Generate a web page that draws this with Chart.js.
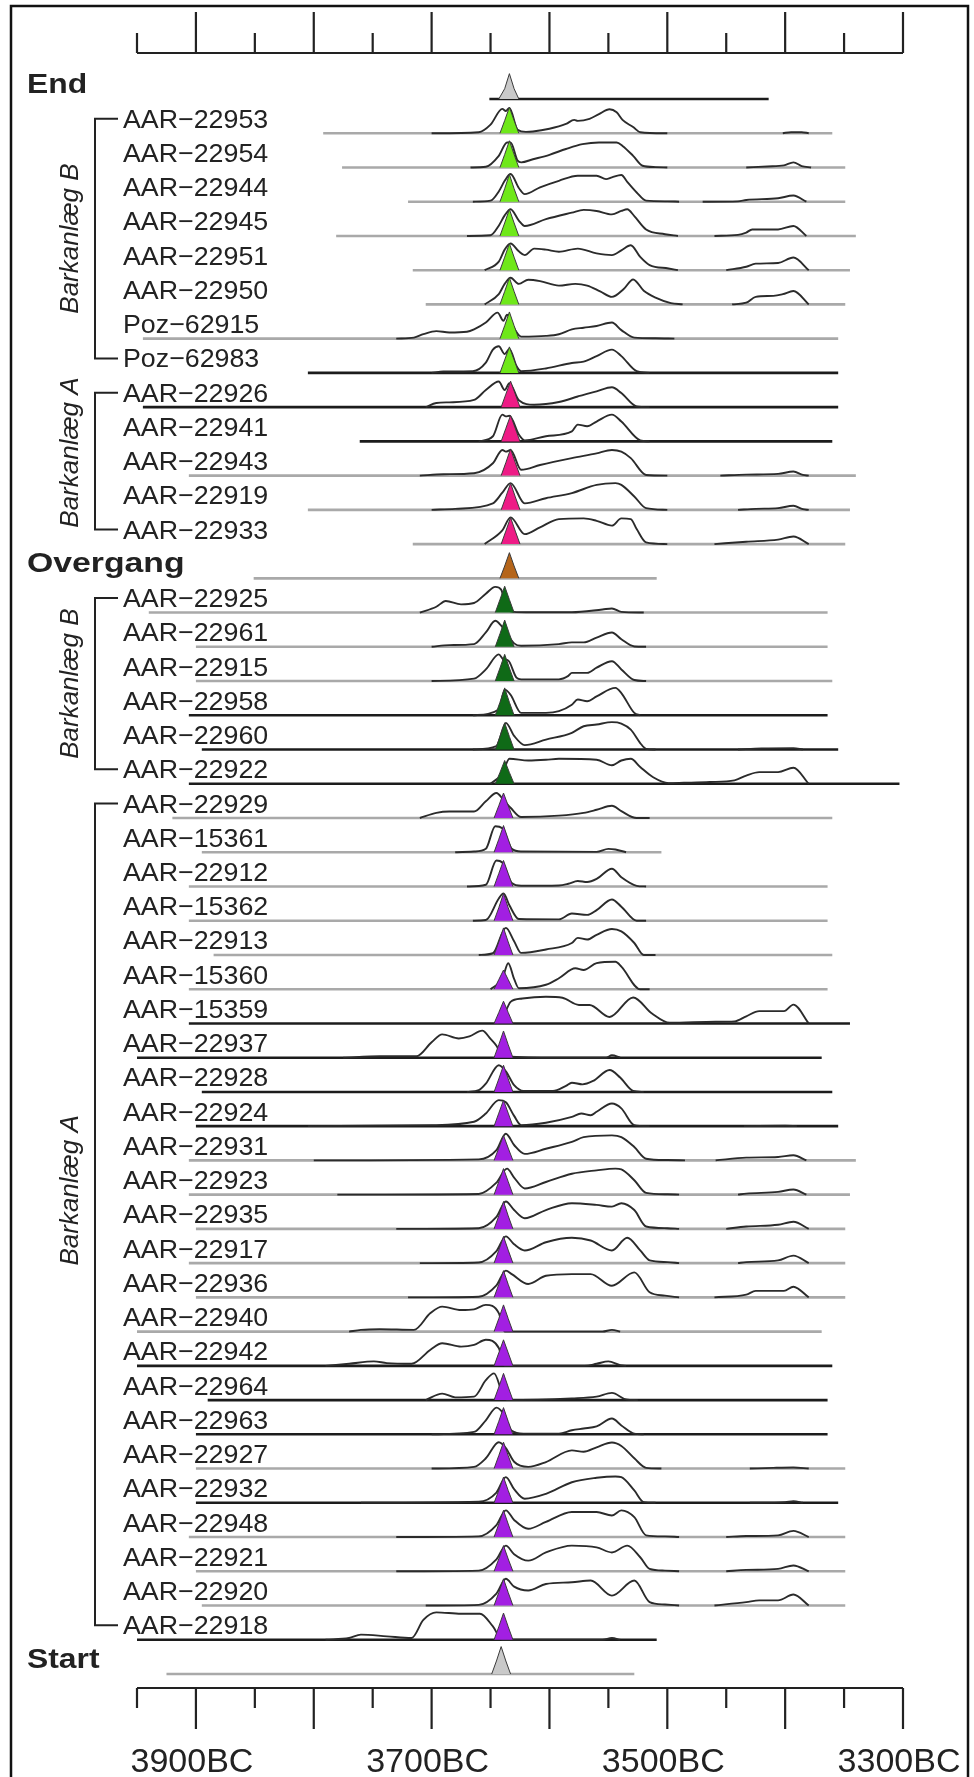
<!DOCTYPE html>
<html>
<head>
<meta charset="utf-8">
<script src="https://cdn.jsdelivr.net/npm/chart.js@4.4.1/dist/chart.umd.min.js"></script>
<style>
  html, body { margin: 0; padding: 0; background: #fff; }
  canvas { display: block; }
</style>
</head>
<body>
<canvas id="chart" width="974" height="1777"></canvas>
<script>
// ---- data (years BC, heights as fraction of row spacing) ----
const rowNames = [
    'End',
    'AAR-22953', 'AAR-22954', 'AAR-22944', 'AAR-22945', 'AAR-22951', 'AAR-22950', 'Poz-62915', 'Poz-62983',
    'AAR-22926', 'AAR-22941', 'AAR-22943', 'AAR-22919', 'AAR-22933',
    'Overgang',
    'AAR-22925', 'AAR-22961', 'AAR-22915', 'AAR-22958', 'AAR-22960', 'AAR-22922',
    'AAR-22929', 'AAR-15361', 'AAR-22912', 'AAR-15362', 'AAR-22913', 'AAR-15360', 'AAR-15359', 'AAR-22937',
    'AAR-22928', 'AAR-22924', 'AAR-22931', 'AAR-22923', 'AAR-22935', 'AAR-22917', 'AAR-22936', 'AAR-22940',
    'AAR-22942', 'AAR-22964', 'AAR-22963', 'AAR-22927', 'AAR-22932', 'AAR-22948', 'AAR-22921', 'AAR-22920',
    'AAR-22918',
    'Start'
];

const boundaryRows = ['End', 'Overgang', 'Start'];

// phase of each row: b = boundary, B1/A1/B2/A2 = sub-phases, o = transition
const rowPhase = [
    'b',
    'B1', 'B1', 'B1', 'B1', 'B1', 'B1', 'B1', 'B1',
    'A1', 'A1', 'A1', 'A1', 'A1',
    'o',
    'B2', 'B2', 'B2', 'B2', 'B2', 'B2',
    'A2', 'A2', 'A2', 'A2', 'A2', 'A2', 'A2', 'A2', 'A2', 'A2', 'A2', 'A2', 'A2',
    'A2', 'A2', 'A2', 'A2', 'A2', 'A2', 'A2', 'A2', 'A2', 'A2', 'A2', 'A2',
    'b'
];

const groupNames = ['Barkanlæg B', 'Barkanlæg A', 'Barkanlæg B', 'Barkanlæg A'];
const groupFirst = [1, 9, 15, 21];
const groupLast = [8, 13, 20, 45];

const rangeFrom = [3651, 3792, 3776, 3720, 3781, 3716, 3705, 3945, 3805, 3945, 3761, 3906, 3805, 3716,
    3851, 3940, 3900, 3900, 3906, 3895, 3906, 3920, 3895, 3906, 3906, 3885, 3906, 3906, 3950,
    3895, 3900, 3906, 3906, 3900, 3906, 3900, 3950, 3950, 3890, 3900, 3900, 3900, 3906, 3900, 3895,
    3950, 3925];
const rangeTo = [3414, 3360, 3349, 3349, 3340, 3345, 3349, 3355, 3355, 3355, 3360, 3340, 3345, 3349,
    3509, 3364, 3364, 3360, 3364, 3355, 3303, 3360, 3505, 3364, 3364, 3360, 3364, 3345, 3369,
    3360, 3355, 3340, 3345, 3349, 3349, 3349, 3369, 3360, 3364, 3364, 3349, 3355, 3349, 3349, 3349,
    3509, 3528];

// unmodelled (outline) distributions, [year, height]; height null = gap
const priorCurves = [
    null,
    [[3700,0],[3660,0.03],[3650,0.25],[3640,0.71],[3637,0.65],[3634,0.74],[3627,0.1],[3620,0.04],[3614,0.05],[3600,0.13],[3586,0.27],[3579,0.39],[3576,0.36],[3566,0.42],[3558,0.56],[3549,0.7],[3543,0.61],[3538,0.39],[3529,0.18],[3523,0.03],[3500,0],[3450,null],[3402,0],[3395,0.03],[3386,0.03],[3380,0]],
    [[3667,0],[3654,0.02],[3643,0.34],[3636,0.73],[3633,0.73],[3627,0.2],[3624,0.15],[3614,0.24],[3600,0.37],[3586,0.54],[3572,0.68],[3558,0.73],[3543,0.73],[3538,0.63],[3529,0.34],[3521,0.05],[3510,0.01],[3500,0],[3460,null],[3433,0],[3415,0.03],[3401,0.06],[3393,0.15],[3386,0.04],[3378,0]],
    [[3665,0],[3650,0.03],[3643,0.3],[3638,0.61],[3633,0.81],[3626,0.4],[3621,0.22],[3608,0.42],[3592,0.61],[3576,0.76],[3560,0.76],[3552,0.66],[3547,0.71],[3539,0.78],[3534,0.58],[3526,0.27],[3518,0.03],[3500,0.01],[3490,0],[3480,null],[3470,0],[3440,0.01],[3433,0.05],[3406,0.1],[3393,0.18],[3382,0]],
    [[3670,0],[3650,0.02],[3643,0.3],[3638,0.6],[3633,0.78],[3626,0.45],[3621,0.29],[3603,0.49],[3581,0.68],[3571,0.76],[3560,0.73],[3547,0.63],[3539,0.73],[3534,0.78],[3528,0.58],[3518,0.19],[3502,0.05],[3491,0],[3475,null],[3460,0],[3440,0.03],[3433,0.1],[3428,0.19],[3406,0.19],[3393,0.29],[3382,0]],
    [[3655,0],[3643,0.25],[3638,0.6],[3633,0.78],[3626,0.55],[3621,0.44],[3613,0.63],[3603,0.6],[3592,0.54],[3576,0.63],[3560,0.49],[3547,0.44],[3539,0.58],[3531,0.73],[3523,0.39],[3515,0.15],[3499,0.05],[3491,0],[3470,null],[3450,0],[3433,0.1],[3425,0.19],[3406,0.21],[3393,0.37],[3380,0]],
    [[3655,0],[3643,0.3],[3638,0.6],[3633,0.78],[3626,0.6],[3618,0.72],[3608,0.68],[3592,0.55],[3578,0.6],[3568,0.55],[3557,0.38],[3547,0.22],[3537,0.45],[3529,0.73],[3520,0.4],[3510,0.2],[3497,0.04],[3487,0],[3465,null],[3445,0],[3433,0.05],[3425,0.22],[3410,0.25],[3402,0.3],[3393,0.39],[3380,0]],
    [[3730,0],[3715,0.03],[3707,0.13],[3696,0.22],[3685,0.18],[3670,0.2],[3664,0.27],[3654,0.47],[3644,0.76],[3639,0.52],[3636,0.7],[3630,0.3],[3624,0.06],[3603,0.08],[3592,0.13],[3581,0.27],[3571,0.32],[3560,0.37],[3547,0.47],[3539,0.25],[3528,0.03],[3510,0.01],[3494,0]],
    [[3700,0],[3690,0.04],[3665,0.05],[3654,0.3],[3648,0.68],[3643,0.78],[3638,0.55],[3634,0.7],[3628,0.2],[3624,0.05],[3603,0.13],[3581,0.29],[3571,0.33],[3560,0.49],[3547,0.68],[3539,0.49],[3526,0.05],[3515,0]],
    [[3705,0],[3696,0.12],[3685,0.14],[3664,0.21],[3654,0.5],[3643,0.75],[3638,0.5],[3634,0.7],[3626,0.2],[3613,0.07],[3592,0.15],[3576,0.31],[3571,0.36],[3560,0.46],[3547,0.58],[3539,0.41],[3526,0.02],[3515,0]],
    [[3660,0],[3648,0.15],[3640,0.78],[3637,0.73],[3634,0.75],[3626,0.2],[3621,0.03],[3603,0.15],[3581,0.29],[3576,0.49],[3568,0.44],[3560,0.58],[3547,0.78],[3539,0.58],[3523,0.03],[3515,0]],
    [[3710,0],[3690,0.04],[3664,0.07],[3648,0.36],[3640,0.75],[3637,0.7],[3633,0.75],[3624,0.17],[3608,0.31],[3581,0.51],[3560,0.65],[3547,0.75],[3539,0.7],[3531,0.51],[3518,0.02],[3500,0],[3475,null],[3455,0],[3433,0.03],[3406,0.05],[3393,0.12],[3385,0.02],[3380,0]],
    [[3700,0],[3680,0.03],[3648,0.19],[3640,0.5],[3633,0.78],[3621,0.19],[3603,0.34],[3581,0.49],[3560,0.73],[3544,0.78],[3539,0.73],[3528,0.39],[3518,0.05],[3500,0],[3470,null],[3440,0],[3425,0.03],[3406,0.05],[3393,0.12],[3385,0.02],[3380,0]],
    [[3655,0],[3640,0.4],[3633,0.78],[3621,0.29],[3608,0.49],[3592,0.73],[3571,0.75],[3560,0.68],[3547,0.54],[3539,0.75],[3531,0.73],[3526,0.44],[3518,0.05],[3500,0],[3480,null],[3460,0],[3433,0.07],[3406,0.13],[3393,0.22],[3380,0]],
    null,
    [[3710,0],[3696,0.17],[3688,0.34],[3675,0.24],[3664,0.28],[3654,0.55],[3646,0.75],[3641,0.67],[3636,0.1],[3630,0.02],[3620,0.01],[3581,0.01],[3555,0.09],[3547,0.12],[3539,0.02],[3520,0]],
    [[3700,0],[3685,0.05],[3664,0.08],[3654,0.42],[3646,0.76],[3641,0.62],[3630,0.1],[3624,0.03],[3592,0.08],[3581,0.13],[3571,0.13],[3560,0.27],[3547,0.42],[3539,0.22],[3528,0.01],[3518,0]],
    [[3700,0],[3664,0.07],[3654,0.34],[3643,0.78],[3639,0.63],[3635,0.6],[3628,0.1],[3624,0.05],[3592,0.05],[3584,0.15],[3581,0.24],[3568,0.24],[3560,0.39],[3547,0.58],[3539,0.34],[3528,0.03],[3518,0]],
    [[3665,0],[3643,0.17],[3638,0.75],[3633,0.6],[3624,0.07],[3603,0.07],[3592,0.12],[3581,0.31],[3576,0.46],[3568,0.41],[3560,0.55],[3544,0.8],[3539,0.65],[3528,0.07],[3523,0]],
    [[3665,0],[3645,0.1],[3637,0.78],[3630,0.4],[3621,0.13],[3603,0.29],[3581,0.49],[3571,0.68],[3560,0.73],[3547,0.8],[3539,0.76],[3531,0.58],[3523,0.19],[3518,0.02],[3510,0],[3470,null],[3440,0],[3420,0.03],[3393,0.04],[3385,0]],
    [[3650,0],[3640,0.3],[3634,0.73],[3618,0.68],[3603,0.7],[3592,0.73],[3560,0.7],[3547,0.54],[3539,0.68],[3531,0.73],[3523,0.49],[3512,0.19],[3499,0.02],[3486,0.03],[3464,0.05],[3443,0.1],[3433,0.24],[3422,0.34],[3406,0.34],[3393,0.47],[3380,0]],
    [[3710,0],[3696,0.15],[3685,0.19],[3664,0.19],[3654,0.49],[3645,0.73],[3639,0.53],[3633,0.3],[3624,0.03],[3592,0.07],[3571,0.15],[3560,0.24],[3547,0.36],[3539,0.2],[3526,0],[3515,0]],
    [[3680,0],[3664,0.02],[3654,0.1],[3646,0.76],[3640,0.7],[3632,0.1],[3624,0.02],[3560,0.01],[3550,0.1],[3544,0.08],[3535,0]],
    [[3670,0],[3654,0.05],[3645,0.76],[3640,0.7],[3632,0.1],[3624,0.02],[3592,0.03],[3584,0.08],[3576,0.16],[3568,0.13],[3560,0.22],[3547,0.52],[3539,0.27],[3526,0.02],[3518,0]],
    [[3665,0],[3654,0.02],[3643,0.65],[3639,0.8],[3634,0.45],[3626,0.05],[3592,0.04],[3581,0.21],[3568,0.17],[3560,0.31],[3547,0.62],[3539,0.41],[3526,0],[3518,0]],
    [[3660,0],[3648,0.05],[3637,0.79],[3630,0.4],[3624,0.06],[3603,0.16],[3581,0.35],[3576,0.5],[3568,0.45],[3560,0.59],[3547,0.76],[3539,0.69],[3528,0.35],[3520,0],[3510,0]],
    [[3650,0],[3640,0.3],[3635,0.76],[3630,0.3],[3626,0.03],[3603,0.13],[3592,0.32],[3578,0.61],[3571,0.56],[3560,0.76],[3544,0.8],[3539,0.66],[3523,0],[3515,0]],
    [[3645,0],[3638,0.3],[3633,0.63],[3623,0.73],[3603,0.78],[3589,0.75],[3575,0.54],[3566,0.54],[3549,0.19],[3529,0.76],[3513,0.29],[3498,0.02],[3459,0.05],[3443,0.06],[3433,0.21],[3422,0.36],[3401,0.36],[3393,0.55],[3380,0]],
    [[3775,0],[3744,0.04],[3713,0.04],[3700,0.45],[3691,0.68],[3677,0.56],[3668,0.62],[3657,0.79],[3650,0.55],[3645,0.35],[3640,0.05],[3600,0],[3552,0],[3547,0.07],[3540,0]],
    [[3670,0],[3660,0.05],[3654,0.24],[3643,0.78],[3637,0.6],[3630,0.2],[3622,0.03],[3597,0.03],[3586,0.18],[3581,0.27],[3572,0.22],[3563,0.32],[3549,0.64],[3540,0.42],[3529,0.03],[3520,0]],
    [[3805,0],[3700,0.03],[3664,0.13],[3654,0.37],[3643,0.76],[3637,0.7],[3630,0.3],[3624,0.03],[3603,0.1],[3581,0.27],[3573,0.37],[3565,0.32],[3560,0.42],[3547,0.66],[3539,0.52],[3528,0.03],[3515,0],[3480,null],[3435,0],[3400,0.01],[3390,0]],
    [[3800,0],[3660,0.03],[3645,0.3],[3637,0.78],[3630,0.45],[3621,0.19],[3603,0.34],[3581,0.54],[3571,0.68],[3547,0.73],[3539,0.68],[3528,0.39],[3518,0.05],[3500,0.01],[3485,0],[3470,null],[3459,0],[3433,0.08],[3406,0.1],[3393,0.15],[3382,0]],
    [[3780,0],[3660,0.02],[3645,0.35],[3636,0.76],[3630,0.5],[3621,0.18],[3603,0.37],[3581,0.61],[3560,0.71],[3544,0.76],[3539,0.74],[3528,0.42],[3518,0.05],[3500,0.01],[3490,0],[3465,null],[3440,0],[3433,0.03],[3406,0.08],[3393,0.15],[3382,0]],
    [[3730,0],[3660,0.02],[3645,0.35],[3637,0.8],[3630,0.55],[3621,0.31],[3603,0.55],[3581,0.75],[3560,0.7],[3547,0.65],[3539,0.75],[3528,0.55],[3518,0.07],[3500,0.02],[3490,0],[3470,null],[3450,0],[3433,0.07],[3406,0.12],[3393,0.21],[3380,0]],
    [[3710,0],[3660,0.02],[3645,0.35],[3637,0.78],[3630,0.55],[3621,0.37],[3603,0.61],[3581,0.74],[3565,0.66],[3547,0.37],[3534,0.74],[3523,0.37],[3515,0.08],[3500,0.03],[3490,0],[3465,null],[3440,0],[3433,0.03],[3406,0.08],[3393,0.22],[3380,0]],
    [[3720,0],[3660,0.02],[3645,0.35],[3637,0.78],[3632,0.68],[3618,0.39],[3603,0.63],[3581,0.68],[3565,0.68],[3547,0.34],[3528,0.73],[3515,0.15],[3502,0.05],[3490,0],[3475,null],[3460,0],[3433,0.08],[3425,0.19],[3401,0.19],[3393,0.31],[3380,0]],
    [[3770,0],[3760,0.05],[3744,0.07],[3715,0.05],[3701,0.54],[3691,0.73],[3675,0.63],[3664,0.65],[3654,0.78],[3643,0.54],[3638,0],[3555,0],[3547,0.05],[3540,0]],
    [[3790,0],[3770,0.06],[3749,0.13],[3738,0.08],[3717,0.06],[3701,0.47],[3691,0.66],[3675,0.56],[3664,0.61],[3654,0.76],[3643,0.52],[3638,0],[3570,0],[3560,0.06],[3550,0.13],[3540,0.02],[3535,0]],
    [[3705,0],[3691,0.19],[3680,0.08],[3664,0.1],[3654,0.58],[3647,0.78],[3640,0.2],[3636,0],[3581,0.05],[3560,0.1],[3547,0.21],[3535,0.02],[3525,0]],
    [[3700,0],[3664,0.07],[3654,0.41],[3645,0.78],[3639,0.6],[3632,0.1],[3622,0.02],[3592,0.02],[3581,0.12],[3571,0.17],[3560,0.23],[3547,0.46],[3539,0.26],[3528,0.02],[3520,0]],
    [[3700,0],[3664,0.05],[3654,0.3],[3643,0.77],[3637,0.6],[3630,0.2],[3618,0.05],[3603,0.19],[3581,0.53],[3571,0.49],[3560,0.62],[3547,0.76],[3539,0.66],[3528,0.3],[3518,0.02],[3505,0],[3470,null],[3430,0],[3410,0.02],[3393,0.03],[3380,0]],
    [[3760,0],[3660,0.03],[3645,0.3],[3637,0.75],[3630,0.4],[3621,0.12],[3603,0.26],[3581,0.6],[3560,0.73],[3544,0.77],[3539,0.75],[3528,0.36],[3520,0.02],[3510,0],[3470,null],[3430,0],[3400,0.02],[3393,0.05],[3385,0]],
    [[3730,0],[3660,0.02],[3645,0.35],[3637,0.78],[3630,0.5],[3618,0.24],[3603,0.44],[3581,0.73],[3560,0.73],[3547,0.63],[3539,0.78],[3528,0.58],[3518,0.05],[3502,0.02],[3490,0],[3470,null],[3450,0],[3433,0.03],[3406,0.05],[3393,0.18],[3380,0]],
    [[3730,0],[3660,0.02],[3645,0.35],[3637,0.75],[3630,0.5],[3618,0.31],[3603,0.55],[3581,0.75],[3560,0.7],[3547,0.55],[3534,0.75],[3523,0.41],[3515,0.07],[3502,0.02],[3490,0],[3470,null],[3450,0],[3433,0.04],[3406,0.07],[3393,0.17],[3380,0]],
    [[3705,0],[3660,0.02],[3645,0.35],[3637,0.78],[3630,0.55],[3618,0.44],[3603,0.63],[3581,0.68],[3565,0.73],[3547,0.29],[3528,0.73],[3515,0.1],[3502,0.03],[3490,0],[3475,null],[3460,0],[3433,0.1],[3422,0.15],[3406,0.15],[3393,0.32],[3380,0]],
    [[3790,0],[3770,0.05],[3760,0.15],[3738,0.1],[3717,0.05],[3707,0.58],[3696,0.8],[3675,0.76],[3659,0.76],[3648,0.39],[3640,0],[3555,0],[3547,0.05],[3540,0]],
    null
];

// modelled (filled) distributions, [year, height]
const postCurves = [
    [[3643,0],[3638,0.3],[3634,0.74],[3630,0.3],[3626,0]],
    [[3642,0],[3638,0.37],[3634,0.76],[3630,0.37],[3626,0]],
    [[3642,0],[3638,0.38],[3634,0.78],[3630,0.38],[3626,0]],
    [[3642,0],[3638,0.38],[3634,0.8],[3630,0.38],[3626,0]],
    [[3642,0],[3638,0.38],[3634,0.78],[3630,0.38],[3626,0]],
    [[3642,0],[3638,0.38],[3634,0.78],[3630,0.38],[3626,0]],
    [[3642,0],[3638,0.38],[3634,0.78],[3630,0.38],[3626,0]],
    [[3642,0],[3638,0.38],[3634,0.78],[3630,0.38],[3626,0]],
    [[3642,0],[3638,0.38],[3634,0.76],[3630,0.38],[3626,0]],
    [[3641,0],[3637,0.38],[3633,0.76],[3629,0.38],[3625,0]],
    [[3641,0],[3637,0.38],[3633,0.76],[3629,0.38],[3625,0]],
    [[3641,0],[3637,0.38],[3633,0.78],[3629,0.38],[3625,0]],
    [[3641,0],[3637,0.38],[3633,0.78],[3629,0.38],[3625,0]],
    [[3641,0],[3637,0.38],[3633,0.78],[3629,0.38],[3625,0]],
    [[3642,0],[3638,0.36],[3634,0.75],[3630,0.36],[3626,0]],
    [[3646,0],[3642,0.38],[3638,0.77],[3634,0.38],[3630,0]],
    [[3646,0],[3642,0.38],[3638,0.78],[3634,0.38],[3630,0]],
    [[3646,0],[3642,0.38],[3638,0.78],[3634,0.38],[3630,0]],
    [[3646,0],[3642,0.38],[3638,0.8],[3634,0.38],[3630,0]],
    [[3646,0],[3642,0.38],[3638,0.78],[3634,0.38],[3630,0]],
    [[3646,0],[3642,0.33],[3638,0.68],[3634,0.33],[3630,0]],
    [[3647,0],[3643,0.36],[3639,0.73],[3635,0.36],[3631,0]],
    [[3647,0],[3643,0.38],[3639,0.78],[3635,0.38],[3631,0]],
    [[3647,0],[3643,0.38],[3639,0.76],[3635,0.38],[3631,0]],
    [[3647,0],[3643,0.38],[3639,0.8],[3635,0.38],[3631,0]],
    [[3647,0],[3643,0.38],[3639,0.79],[3635,0.38],[3631,0]],
    [[3647,0],[3643,0.28],[3639,0.56],[3635,0.28],[3631,0]],
    [[3647,0],[3643,0.32],[3639,0.65],[3635,0.32],[3631,0]],
    [[3647,0],[3643,0.38],[3639,0.78],[3635,0.38],[3631,0]],
    [[3647,0],[3643,0.38],[3639,0.78],[3635,0.38],[3631,0]],
    [[3647,0],[3643,0.38],[3639,0.76],[3635,0.38],[3631,0]],
    [[3647,0],[3643,0.36],[3639,0.73],[3635,0.36],[3631,0]],
    [[3647,0],[3643,0.38],[3639,0.76],[3635,0.38],[3631,0]],
    [[3647,0],[3643,0.38],[3639,0.8],[3635,0.38],[3631,0]],
    [[3647,0],[3643,0.38],[3639,0.78],[3635,0.38],[3631,0]],
    [[3647,0],[3643,0.38],[3639,0.78],[3635,0.38],[3631,0]],
    [[3647,0],[3643,0.38],[3639,0.78],[3635,0.38],[3631,0]],
    [[3647,0],[3643,0.38],[3639,0.76],[3635,0.38],[3631,0]],
    [[3647,0],[3643,0.38],[3639,0.78],[3635,0.38],[3631,0]],
    [[3647,0],[3643,0.38],[3639,0.78],[3635,0.38],[3631,0]],
    [[3647,0],[3643,0.38],[3639,0.77],[3635,0.38],[3631,0]],
    [[3647,0],[3643,0.36],[3639,0.75],[3635,0.36],[3631,0]],
    [[3647,0],[3643,0.38],[3639,0.78],[3635,0.38],[3631,0]],
    [[3647,0],[3643,0.36],[3639,0.75],[3635,0.36],[3631,0]],
    [[3647,0],[3643,0.38],[3639,0.78],[3635,0.38],[3631,0]],
    [[3647,0],[3643,0.38],[3639,0.78],[3635,0.38],[3631,0]],
    [[3649,0],[3645,0.38],[3641,0.8],[3637,0.38],[3633,0]]
];

const majorTicks = [3900, 3800, 3700, 3600, 3500, 3400, 3300];
const minorTicks = [3950, 3850, 3750, 3650, 3550, 3450, 3350];
const tickLabelYears = [3900, 3700, 3500, 3300];
const tickLabels = ['3900BC', '3700BC', '3500BC', '3300BC'];

// ---- styles ----
const phaseColor = {
    b: '#c9c9c9',
    B1: '#6fe81a',
    A1: '#ee1b86',
    o: '#b5651a',
    B2: '#0f6a17',
    A2: '#a21fe2'
};
const darkRange = new Set(['End', 'Poz-62983', 'AAR-22926', 'AAR-22941', 'AAR-22958', 'AAR-22960',
    'AAR-22922', 'AAR-15359', 'AAR-22937', 'AAR-22928', 'AAR-22942', 'AAR-22964', 'AAR-22963',
    'AAR-22918', 'AAR-22932', 'AAR-22924']);
const groupShift = [0, -0.25, 0, -0.7]; // nudge of vertical group text, in rows
const FONT = '"Liberation Sans", Arial, sans-serif';

const nRows = rowNames.length;
const baseOf = i => nRows - 1 - i;

const datasets = [];
rowNames.forEach((name, i) => {
    const base = baseOf(i);
    datasets.push({
        data: [{ x: rangeFrom[i], y: base }, { x: rangeTo[i], y: base }],
        borderColor: darkRange.has(name) ? '#1c1c1c' : '#a9a9a9',
        borderWidth: 2.6,
        order: 3
    });
    if (priorCurves[i]) {
        datasets.push({
            data: priorCurves[i].map(([x, h]) => ({ x: x, y: h === null ? null : base + h })),
            borderColor: '#2b2b2b',
            borderWidth: 1.9,
            cubicInterpolationMode: 'monotone',
            order: 2
        });
    }
    datasets.push({
        data: postCurves[i].map(([x, h]) => ({ x: x, y: base + h })),
        fill: { value: base },
        backgroundColor: phaseColor[rowPhase[i]],
        borderColor: '#3a3a3a',
        borderWidth: 1,
        order: 1
    });
});

const decorations = {
    id: 'decorations',
    afterDraw(chart) {
        const ctx = chart.ctx;
        const xs = chart.scales.x, ys = chart.scales.y;
        const area = chart.chartArea;
        const rowY = i => ys.getPixelForValue(baseOf(i));
        ctx.save();

        // frame
        ctx.strokeStyle = '#111';
        ctx.lineWidth = 2.5;
        ctx.strokeRect(11, 6, 957, 1790);

        // axes
        ctx.lineWidth = 2.2;
        ctx.strokeStyle = '#222';
        const x0 = xs.getPixelForValue(3950), x1 = xs.getPixelForValue(3300);
        [[area.top, -1], [area.bottom, 1]].forEach(([y, dir]) => {
            ctx.beginPath();
            ctx.moveTo(x0, y);
            ctx.lineTo(x1, y);
            majorTicks.forEach(t => {
                const px = xs.getPixelForValue(t);
                ctx.moveTo(px, y);
                ctx.lineTo(px, y + dir * 41);
            });
            minorTicks.forEach(t => {
                const px = xs.getPixelForValue(t);
                ctx.moveTo(px, y);
                ctx.lineTo(px, y + dir * 20);
            });
            ctx.stroke();
        });
        ctx.fillStyle = '#222';
        ctx.font = '34px ' + FONT;
        ctx.textAlign = 'center';
        ctx.textBaseline = 'alphabetic';
        tickLabels.forEach((t, k) => {
            ctx.fillText(t, xs.getPixelForValue(tickLabelYears[k]) - 4, 1772);
        });

        // row labels
        ctx.textAlign = 'left';
        rowNames.forEach((name, i) => {
            const y = rowY(i);
            ctx.save();
            if (boundaryRows.includes(name)) {
                ctx.font = 'bold 27px ' + FONT;
                ctx.translate(27, y - 6);
                ctx.scale(name === 'Overgang' ? 1.25 : 1.18, 1);
                ctx.fillText(name, 0, 0);
            } else {
                ctx.font = '26px ' + FONT;
                ctx.translate(123, y - 5.5);
                ctx.scale(1.03, 1);
                ctx.fillText(name.replace('-', '\u2212'), 0, 0);
            }
            ctx.restore();
        });

        // group brackets
        ctx.lineWidth = 2;
        ctx.strokeStyle = '#222';
        groupNames.forEach((g, k) => {
            const yTop = rowY(groupFirst[k]) - 14.5;
            const yBot = rowY(groupLast[k]) - 14.5;
            ctx.beginPath();
            ctx.moveTo(118, yTop);
            ctx.lineTo(95, yTop);
            ctx.lineTo(95, yBot);
            ctx.lineTo(118, yBot);
            ctx.stroke();
            const step = rowY(1) - rowY(0);
            const yMid = (yTop + yBot) / 2 + groupShift[k] * step;
            ctx.save();
            ctx.translate(78, yMid);
            ctx.rotate(-Math.PI / 2);
            ctx.font = 'italic 26px ' + FONT;
            ctx.textAlign = 'center';
            ctx.fillText(g, 0, 0);
            ctx.restore();
        });
        ctx.restore();
    }
};

new Chart(document.getElementById('chart'), {
    type: 'line',
    data: { datasets: datasets },
    options: {
        responsive: false,
        animation: false,
        devicePixelRatio: 1,
        layout: { padding: { left: 137, right: 71, top: 53, bottom: 89 } },
        elements: { point: { radius: 0 }, line: { tension: 0 } },
        scales: {
            x: { type: 'linear', reverse: true, min: 3300, max: 3950, display: false },
            y: { type: 'linear', min: -0.409, max: 47.343, display: false }
        },
        plugins: { legend: { display: false }, tooltip: { enabled: false } }
    },
    plugins: [decorations]
});
</script>
</body>
</html>
